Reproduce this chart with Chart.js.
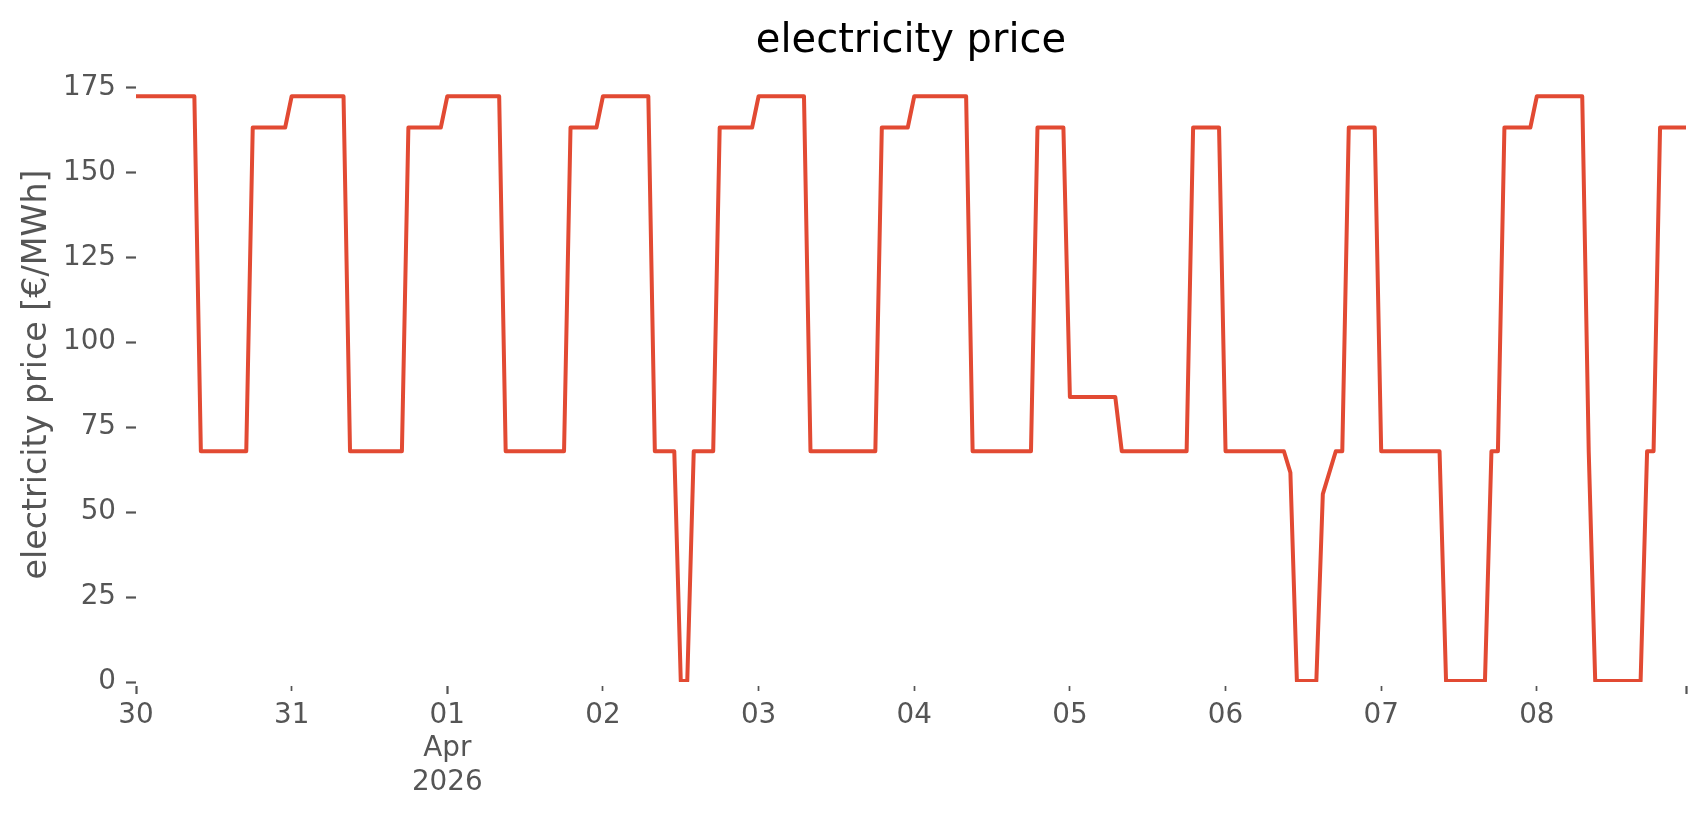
<!DOCTYPE html>
<html>
<head>
<meta charset="utf-8">
<title>electricity price</title>
<script src="https://cdn.jsdelivr.net/npm/chart.js@4.4.1/dist/chart.umd.min.js"></script>
<style>
    html, body { margin: 0; padding: 0; background: #fff; }
</style>
</head>
<body>
<canvas id="priceChart" width="1706" height="815"></canvas>
<script>
// hourly price in €/MWh, one array per day (00:00 .. 23:00)
const day30 = [172.4,172.4,172.4,172.4,172.4,172.4,172.4,172.4,172.4,172.4,67.9,67.9,67.9,67.9,67.9,67.9,67.9,67.9,163.2,163.2,163.2,163.2,163.2,163.2];
const day31 = [172.4,172.4,172.4,172.4,172.4,172.4,172.4,172.4,172.4,67.9,67.9,67.9,67.9,67.9,67.9,67.9,67.9,67.9,163.2,163.2,163.2,163.2,163.2,163.2];
const day01 = [172.4,172.4,172.4,172.4,172.4,172.4,172.4,172.4,172.4,67.9,67.9,67.9,67.9,67.9,67.9,67.9,67.9,67.9,67.9,163.2,163.2,163.2,163.2,163.2];
const day02 = [172.4,172.4,172.4,172.4,172.4,172.4,172.4,172.4,67.9,67.9,67.9,67.9,0.3,0.3,67.9,67.9,67.9,67.9,163.2,163.2,163.2,163.2,163.2,163.2];
const day03 = [172.4,172.4,172.4,172.4,172.4,172.4,172.4,172.4,67.9,67.9,67.9,67.9,67.9,67.9,67.9,67.9,67.9,67.9,67.9,163.2,163.2,163.2,163.2,163.2];
const day04 = [172.4,172.4,172.4,172.4,172.4,172.4,172.4,172.4,172.4,67.9,67.9,67.9,67.9,67.9,67.9,67.9,67.9,67.9,67.9,163.2,163.2,163.2,163.2,163.2];
const day05 = [83.9,83.9,83.9,83.9,83.9,83.9,83.9,83.9,67.9,67.9,67.9,67.9,67.9,67.9,67.9,67.9,67.9,67.9,67.9,163.2,163.2,163.2,163.2,163.2];
const day06 = [67.9,67.9,67.9,67.9,67.9,67.9,67.9,67.9,67.9,67.9,61.6,0.3,0.3,0.3,0.3,55.3,61.6,67.9,67.9,163.2,163.2,163.2,163.2,163.2];
const day07 = [67.9,67.9,67.9,67.9,67.9,67.9,67.9,67.9,67.9,67.9,0.3,0.3,0.3,0.3,0.3,0.3,0.3,67.9,67.9,163.2,163.2,163.2,163.2,163.2];
const day08 = [172.4,172.4,172.4,172.4,172.4,172.4,172.4,172.4,67.9,0.3,0.3,0.3,0.3,0.3,0.3,0.3,0.3,67.9,67.9,163.2,163.2,163.2,163.2,163.2];

// x ticks (hours since 30 Mar 00:00) and their labels
const tickHours = [0, 24, 48, 72, 96, 120, 144, 168, 192, 216, 239];
const tickLabels = ['30', '31', ['01', 'Apr', '2026'], '02', '03', '04', '05', '06', '07', '08', ''];
const majorHours = [0, 48, 239];
const yTicks = [0, 25, 50, 75, 100, 125, 150, 175];

const prices = [].concat(day30, day31, day01, day02, day03, day04, day05, day06, day07, day08);

// title centred over the plot area, like matplotlib does
const axesTitle = {
    id: 'axesTitle',
    afterDraw(chart) {
        const {ctx, chartArea} = chart;
        ctx.save();
        ctx.font = '40px "DejaVu Sans"';
        ctx.fillStyle = '#000000';
        ctx.textAlign = 'center';
        ctx.textBaseline = 'alphabetic';
        ctx.fillText('electricity price', (chartArea.left + chartArea.right) / 2, chartArea.top - 15);
        ctx.restore();
    }
};

const isMajor = c => c.tick && majorHours.includes(c.tick.value);

new Chart(document.getElementById('priceChart'), {
    type: 'line',
    data: {
        datasets: [{
            label: 'electricity price',
            data: prices.map((v, i) => ({x: i, y: v})),
            borderColor: '#E24A33',
            borderWidth: 4,
            borderJoinStyle: 'round',
            pointRadius: 0,
            fill: false,
            tension: 0
        }]
    },
    options: {
        responsive: false,
        animation: false,
        layout: {padding: {top: 67, right: 20, left: 0, bottom: 0}},
        plugins: {
            legend: {display: false},
            tooltip: {enabled: false},
            title: {display: false}
        },
        scales: {
            x: {
                type: 'linear',
                min: 0,
                max: 239,
                afterBuildTicks: axis => { axis.ticks = tickHours.map(h => ({value: h})); },
                afterFit: axis => { axis.height = 133; },
                border: {display: false},
                grid: {
                    drawOnChartArea: false,
                    drawTicks: true,
                    tickLength: 12,
                    tickColor: '#555555',
                    tickWidth: c => isMajor(c) ? 2.2 : 1.7,
                    tickBorderDash: c => isMajor(c) ? [0, 4, 8, 100] : [0, 4, 5, 100]
                },
                ticks: {
                    color: '#555555',
                    font: {family: 'DejaVu Sans', size: 27.8, lineHeight: 1.2},
                    padding: 5,
                    maxRotation: 0,
                    autoSkip: false,
                    callback: (value, index) => tickLabels[index]
                }
            },
            y: {
                min: 0,
                max: 181,
                afterBuildTicks: axis => { axis.ticks = yTicks.map(v => ({value: v})); },
                afterFit: axis => { axis.width = 136; },
                border: {display: false},
                grid: {
                    drawOnChartArea: false,
                    drawTicks: true,
                    tickLength: 10,
                    tickColor: '#555555',
                    tickWidth: 2.2
                },
                ticks: {
                    color: '#555555',
                    font: {family: 'DejaVu Sans', size: 27.8},
                    padding: 10
                },
                title: {
                    display: true,
                    text: 'electricity price [€/MWh]',
                    color: '#555555',
                    font: {family: 'DejaVu Sans', size: 33.3},
                    padding: {top: 17, bottom: 0}
                }
            }
        }
    },
    plugins: [axesTitle]
});
</script>
</body>
</html>
